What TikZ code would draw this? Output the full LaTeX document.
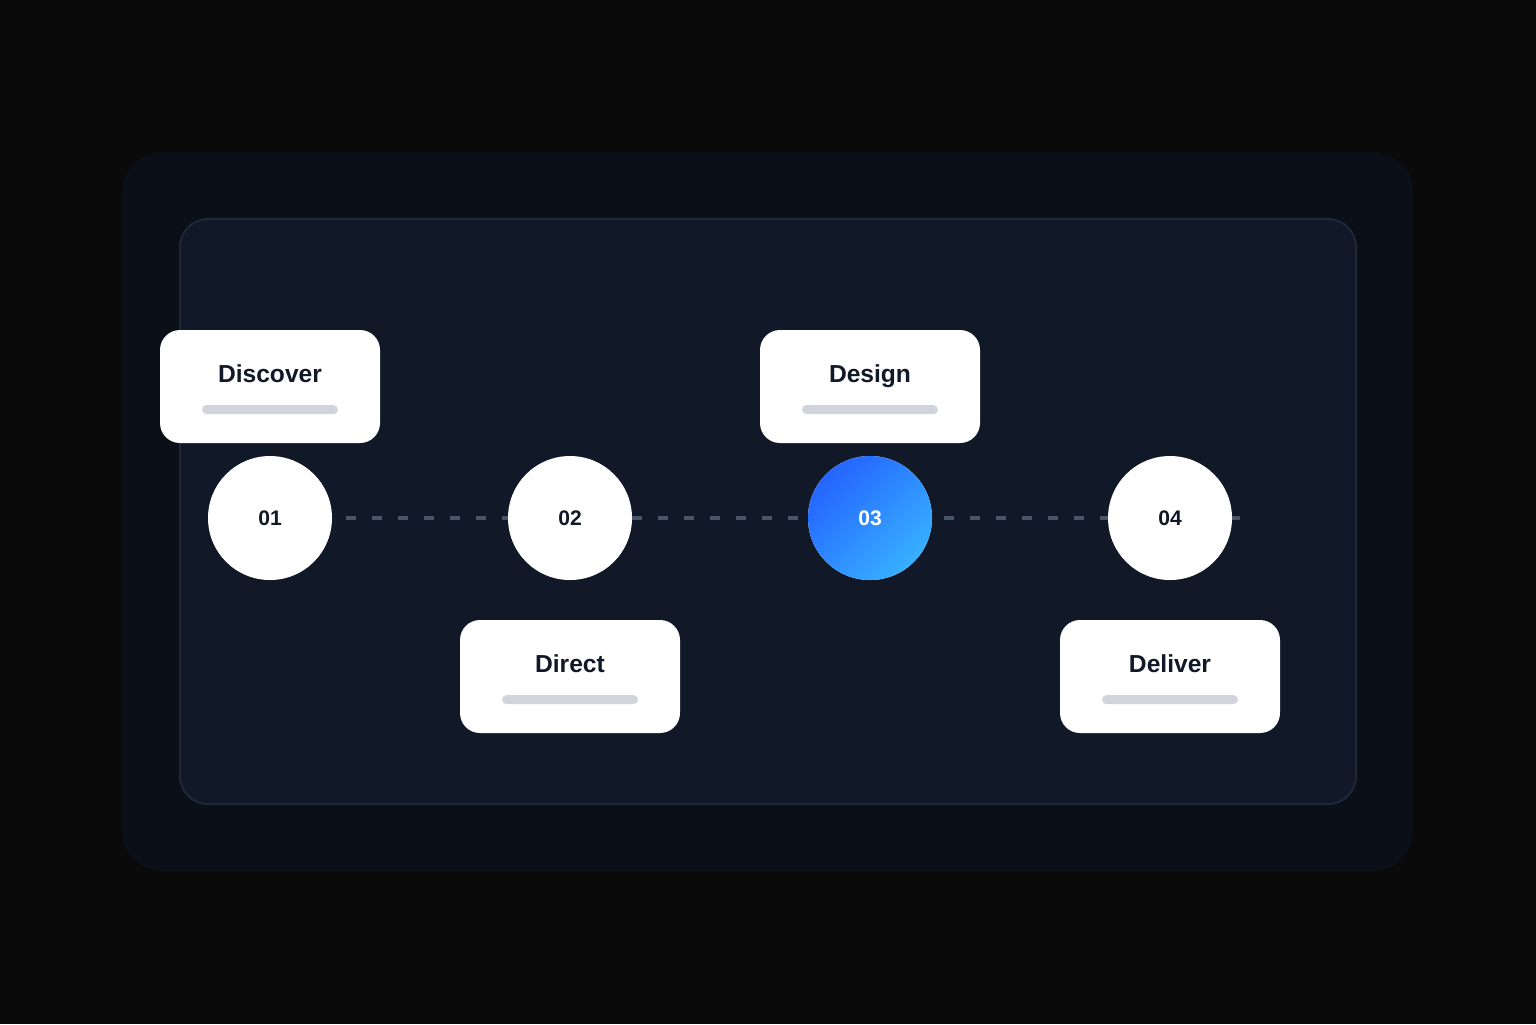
\documentclass[tikz,border=0pt]{standalone}
\usepackage{fontspec}
\setmainfont{Liberation Sans}
\usetikzlibrary{positioning}
\definecolor{bgblack}{RGB}{10,10,10}
\definecolor{outerpanel}{RGB}{11,15,23}
\definecolor{innerpanel}{RGB}{17,24,39}
\definecolor{inneredge}{RGB}{30,40,56}
\definecolor{ink}{RGB}{17,24,39}
\definecolor{bargray}{RGB}{209,213,219}
\definecolor{dashgray}{RGB}{71,85,105}
\definecolor{bluedeep}{RGB}{36,100,255}
\definecolor{bluelight}{RGB}{56,176,255}
\pgfdeclarelayer{back}
\pgfdeclarelayer{mid}
\pgfsetlayers{back,mid,main}
\begin{document}
\begin{tikzpicture}[
  stepdot/.style={circle, fill=white, minimum size=2.48cm, inner sep=0pt, text=ink, font=\bfseries\fontsize{12}{14}\selectfont},
  card/.style={rectangle, rounded corners=0.4cm, fill=white, minimum width=4.4cm, minimum height=2.26cm},
  title/.style={anchor=base, inner sep=0pt, text=ink, font=\bfseries\fontsize{14}{16}\selectfont},
  bar/.style={rectangle, rounded corners=0.09cm, fill=bargray, minimum width=2.72cm, minimum height=0.18cm, inner sep=0pt},
  node distance=6cm
]
\useasboundingbox (0,0) rectangle (30.72,-20.48);

\node[stepdot] (n01) at (5.4,-10.36) {01};
\node[stepdot, right of=n01] (n02) {02};
\node[stepdot, right of=n02, shading=axis, top color=bluedeep, bottom color=bluelight, shading angle=45, text=white] (n03) {03};
\node[stepdot, right of=n03] (n04) {04};

\node[card, above of=n01, node distance=2.63cm] (discover) {};
\node[card, below of=n02, node distance=3.17cm] (direct) {};
\node[card, above of=n03, node distance=2.63cm] (design) {};
\node[card, below of=n04, node distance=3.17cm] (deliver) {};

\node[title] at ([yshift=-1.06cm]discover.north) {Discover};
\node[title] at ([yshift=-1.06cm]direct.north) {Direct};
\node[title] at ([yshift=-1.06cm]design.north) {Design};
\node[title] at ([yshift=-1.06cm]deliver.north) {Deliver};

\node[bar] (discover_bar) at ([yshift=-1.6cm]discover.north) {};
\node[bar] (direct_bar) at ([yshift=-1.6cm]direct.north) {};
\node[bar] (design_bar) at ([yshift=-1.6cm]design.north) {};
\node[bar] (deliver_bar) at ([yshift=-1.6cm]deliver.north) {};

\begin{pgfonlayer}{mid}
\draw[dashgray, line width=0.08cm, dash pattern=on 0.2cm off 0.32cm] ([xshift=0.28cm]n01.east) -- ([xshift=0.16cm]n04.east);
\end{pgfonlayer}

\begin{pgfonlayer}{back}
\fill[bgblack] (0,0) rectangle (30.72,-20.48);
\fill[outerpanel, rounded corners=0.8cm] (2.44,-3.04) rectangle (28.26,-17.42);
\draw[inneredge, fill=innerpanel, line width=0.04cm, rounded corners=0.56cm] (3.6,-4.38) rectangle (27.12,-16.08);
\end{pgfonlayer}
\end{tikzpicture}
\end{document}
